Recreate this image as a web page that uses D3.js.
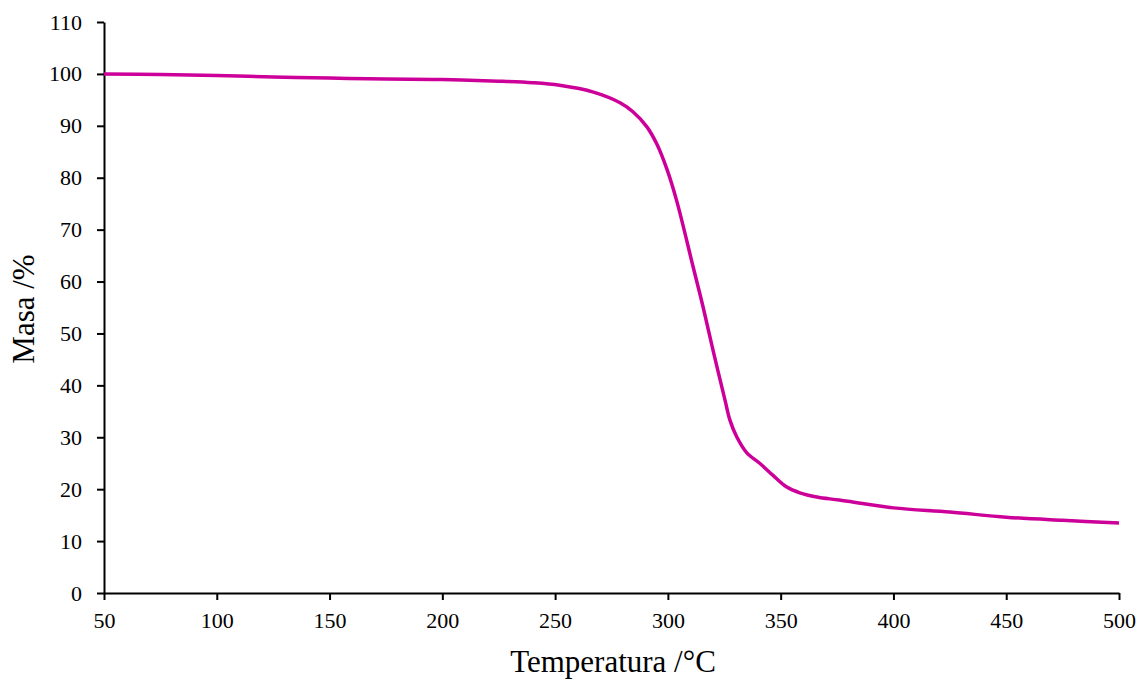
<!DOCTYPE html>
<html>
<head>
<meta charset="utf-8">
<script src="https://cdn.jsdelivr.net/npm/d3@7"></script>
<style>
  body { margin: 0; background: #fff; }
  svg { display: block; }
</style>
</head>
<body>
<svg></svg>
<script>
// TGA curve
var temps = [50, 75, 100, 125, 150, 175, 200, 225, 240, 252, 267, 279, 284.5, 290.7, 295.2, 299.6, 304, 311.2, 315.6, 320, 325.3, 327.5, 330.5, 335, 340.7, 346.5, 352.7, 358.5, 366, 376, 400, 425, 450, 475, 500];
var masses = [100, 99.9, 99.7, 99.4, 99.2, 99.0, 98.9, 98.6, 98.3, 97.8, 96.5, 94.4, 92.7, 89.8, 86.4, 81.6, 75.4, 62.8, 55.1, 46.8, 37.2, 33.3, 30.1, 27.0, 25.0, 22.7, 20.4, 19.3, 18.5, 17.9, 16.4, 15.6, 14.6, 14.0, 13.5];
var xTicks = [50, 100, 150, 200, 250, 300, 350, 400, 450, 500];
var yTicks = [0, 10, 20, 30, 40, 50, 60, 70, 80, 90, 100, 110];

var data = temps.map(function(t, i) { return {t: t, m: masses[i]}; });

var margin = {top: 22, right: 23, bottom: 87, left: 104},
    W = 1142, H = 680,
    width = W - margin.left - margin.right,
    height = H - margin.top - margin.bottom;

var svg = d3.select("svg")
  .attr("width", W)
  .attr("height", H);

var g = svg.append("g")
  .attr("transform", "translate(" + margin.left + "," + margin.top + ")");

var x = d3.scaleLinear().domain([50, 500]).range([0, width]);
var y = d3.scaleLinear().domain([0, 110]).range([height, 0]);

var font = "'Liberation Serif', 'Times New Roman', serif";

// x axis
var xAxis = g.append("g")
  .attr("transform", "translate(0," + height + ")")
  .call(d3.axisBottom(x).tickValues(xTicks).tickSize(7).tickSizeOuter(0).tickPadding(12));
// y axis
var yAxis = g.append("g")
  .call(d3.axisLeft(y).tickValues(yTicks).tickSize(7).tickSizeOuter(0).tickPadding(15));

[xAxis, yAxis].forEach(function(a) {
  a.selectAll("path, line").attr("stroke", "#000").attr("stroke-width", 2);
  a.selectAll("text").attr("font-family", font).attr("font-size", "22px").attr("fill", "#000");
});

// curve
g.append("path")
  .datum(data)
  .attr("fill", "none")
  .attr("stroke", "#CC0099")
  .attr("stroke-width", 3.5)
  .attr("d", d3.line()
    .x(function(d) { return x(d.t); })
    .y(function(d) { return y(d.m); })
    .curve(d3.curveCatmullRom.alpha(0.5)));

// axis titles
svg.append("text")
  .attr("x", 613)
  .attr("y", 672)
  .attr("text-anchor", "middle")
  .attr("font-family", font)
  .attr("font-size", "31px")
  .text("Temperatura /°C");

svg.append("text")
  .attr("transform", "translate(34," + 309 + ") rotate(-90)")
  .attr("text-anchor", "middle")
  .attr("font-family", font)
  .attr("font-size", "31px")
  .text("Masa /%");
</script>
</body>
</html>
